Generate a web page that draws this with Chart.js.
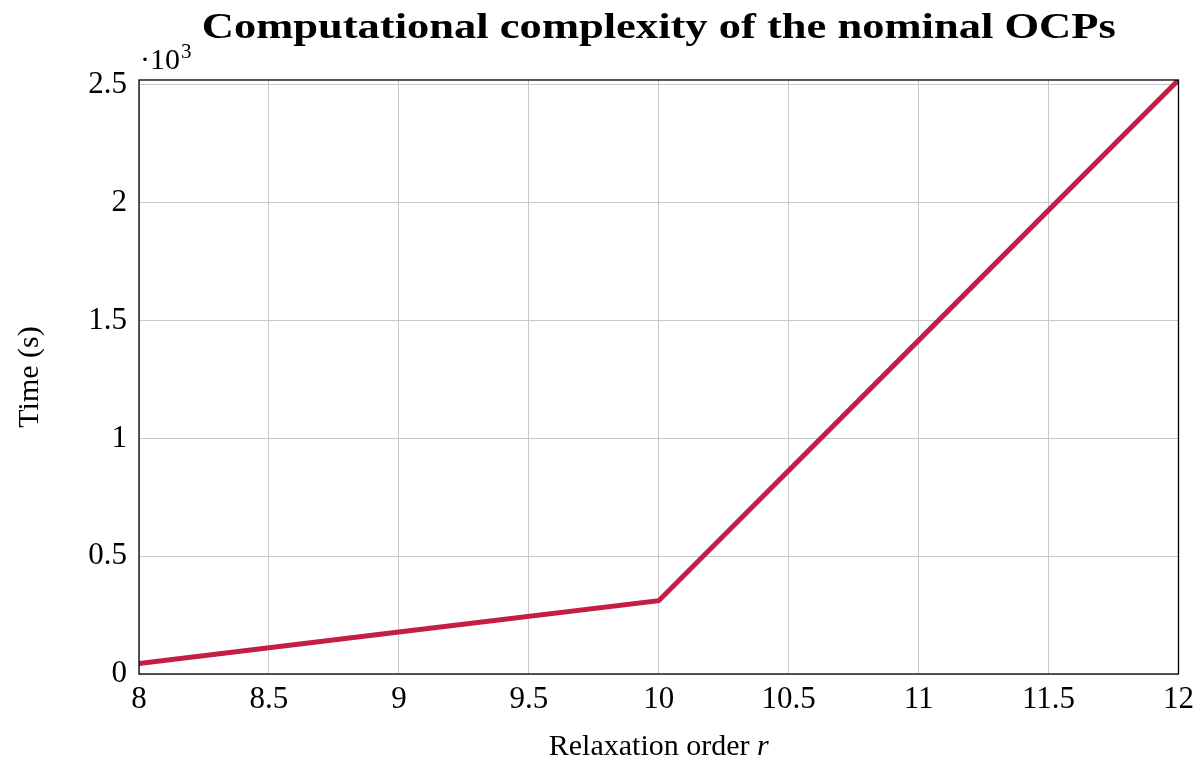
<!DOCTYPE html>
<html>
<head>
<meta charset="utf-8">
<script src="https://cdn.jsdelivr.net/npm/chart.js@4.4.1/dist/chart.umd.min.js"></script>
<style>
  html, body { margin: 0; padding: 0; background: #fff; }
  #wrap { width: 1201px; height: 760px; }
</style>
</head>
<body>
<div id="wrap"><canvas id="chart1"></canvas></div>
<script>
// relaxation order r
var orders = [8, 9, 10, 11, 12];
// solve time in seconds
var times = [45, 178, 311, 1416, 2521];
var xTicks = [8, 8.5, 9, 9.5, 10, 10.5, 11, 11.5, 12];
var yTicks = [0, 500, 1000, 1500, 2000, 2500];
var titleText = 'Computational complexity of the nominal OCPs';

var lineColor = 'rgb(196, 30, 68)';
var serif = "'Liberation Serif', 'DejaVu Serif', serif";

var framePlugin = {
    id: 'frame',
    afterDatasetsDraw: function(chart) {
        var a = chart.chartArea, c = chart.ctx;
        var mid = (a.left + a.right) / 2;
        c.save();
        c.strokeStyle = '#000';
        c.lineWidth = 1.3;
        c.strokeRect(a.left, a.top, a.right - a.left, a.bottom - a.top);
        c.fillStyle = '#000';
        c.textBaseline = 'alphabetic';
        // title, centred over the plot box, stretched a bit like the CM bold face
        c.font = 'bold 35px ' + serif;
        c.textAlign = 'left';
        var tw = c.measureText(titleText).width;
        var sx = 914 / tw;
        c.save();
        c.translate(mid - tw * sx / 2, 38);
        c.scale(sx, 1);
        c.fillText(titleText, 0, 0);
        c.restore();
        // exponent label
        c.font = '30px ' + serif;
        c.fillText('\u00b710', a.left + 1, 69);
        var w = c.measureText('\u00b710').width;
        c.font = '21px ' + serif;
        c.fillText('3', a.left + 2 + w, 58);
        // x axis title with italic r
        c.font = '30px ' + serif;
        var t1 = 'Relaxation order ';
        var w1 = c.measureText(t1).width;
        c.font = 'italic 30px ' + serif;
        var w2 = c.measureText('r').width;
        var x0 = mid - (w1 + w2) / 2;
        c.font = '30px ' + serif;
        c.fillText(t1, x0, 755);
        c.font = 'italic 30px ' + serif;
        c.fillText('r', x0 + w1, 755);
        c.restore();
    }
};

var ctx1 = document.getElementById('chart1');
var chart1 = new Chart(ctx1.getContext('2d'), {
    type: 'line',
    data: {
        labels: orders,
        datasets: [{
            label: 'Time',
            data: orders.map(function(r, i) { return { x: r, y: times[i] }; }),
            borderColor: lineColor,
            borderWidth: 5,
            pointRadius: 0,
            fill: false,
            tension: 0
        }]
    },
    options: {
        responsive: true,
        maintainAspectRatio: false,
        animation: false,
        layout: { padding: { left: 0, right: 21, top: 80, bottom: 0 } },
        plugins: {
            legend: { display: false },
            tooltip: { enabled: false },
            title: { display: false }
        },
        scales: {
            x: {
                type: 'linear',
                min: 8,
                max: 12,
                afterBuildTicks: function(s) { s.ticks = xTicks.map(function(v) { return { value: v }; }); },
                afterFit: function(s) { s.height = 86; },
                ticks: {
                    color: '#000',
                    padding: 7,
                    maxRotation: 0,
                    font: { family: serif, size: 31 },
                    callback: function(v) { return String(v); }
                },
                grid: { color: '#c8c8c8', lineWidth: 1, drawTicks: false },
                border: { display: false }
            },
            y: {
                type: 'linear',
                min: 0,
                max: 2521,
                afterBuildTicks: function(s) { s.ticks = yTicks.map(function(v) { return { value: v }; }); },
                afterFit: function(s) { s.width = 139; },
                ticks: {
                    color: '#000',
                    padding: 12,
                    font: { family: serif, size: 31 },
                    callback: function(v) { return String(v / 1000); }
                },
                grid: { color: '#c8c8c8', lineWidth: 1, drawTicks: false },
                border: { display: false },
                title: {
                    display: true,
                    text: 'Time (s)',
                    color: '#000',
                    font: { family: serif, size: 30 },
                    padding: { top: 12, bottom: 0 }
                }
            }
        }
    },
    plugins: [framePlugin]
});
</script>
</body>
</html>
